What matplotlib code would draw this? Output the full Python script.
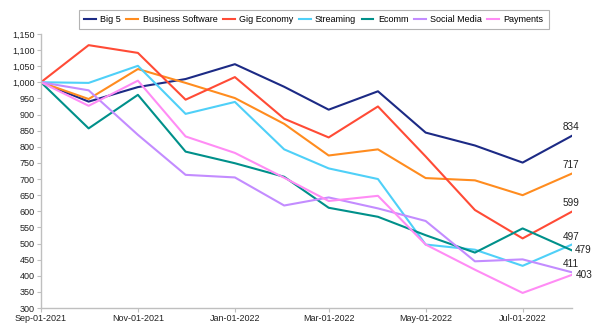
import matplotlib
import matplotlib.pyplot as plt
import matplotlib.dates as mdates
import pandas as pd

matplotlib.use("Agg")
plt.rcParams["font.family"] = ["Liberation Sans", "DejaVu Sans"]

dates = pd.date_range("2021-09-01", "2022-08-01", freq="MS")

series_names = ["Big 5", "Business Software", "Gig Economy", "Streaming",
                "Ecomm", "Social Media", "Payments"]
big5 = [1000, 940, 985, 1010, 1056, 986, 915, 972, 844, 804, 751, 834]
business_software = [1000, 948, 1041, 998, 951, 871, 773, 792, 703, 696, 650, 717]
gig_economy = [1000, 1115, 1091, 946, 1016, 887, 829, 925, 770, 604, 516, 599]
streaming = [1000, 998, 1051, 902, 939, 792, 733, 700, 497, 481, 431, 497]
ecomm = [1000, 857, 961, 785, 749, 707, 611, 583, 526, 472, 547, 479]
social_media = [1000, 975, 837, 713, 705, 618, 643, 609, 570, 445, 451, 411]
payments = [1000, 927, 1005, 832, 781, 704, 632, 648, 497, 419, 347, 403]

values = [big5, business_software, gig_economy, streaming, ecomm, social_media, payments]
colors = ["#1c2a85", "#ff8c1f", "#ff4b36", "#4fd0f8", "#00908a", "#c38cff", "#ff8cf5"]

# end label offsets in pixels (dx, dy), chosen to mimic the reference
end_offsets = [(-1, 9), (-1, 9), (-1, 9), (-1, 8), (11, 0), (-1, 8), (12, 0)]

fig = plt.figure(figsize=(6.02, 3.32), dpi=100)
ax = fig.add_axes([0.068, 0.072, 0.882, 0.826])

for name, vals, color in zip(series_names, values, colors):
    ax.plot(dates, vals, color=color, linewidth=1.5, label=name)

for vals, color, (dx, dy) in zip(values, colors, end_offsets):
    ax.annotate(f"{vals[-1]}", (dates[-1], vals[-1]), xytext=(dx * 0.72, dy * 0.72),
                textcoords="offset points", ha="center", va="center",
                fontsize=7.2, color="#222222")

ax.set_xlim(dates[0], dates[-1])
ax.set_ylim(300, 1150)
ax.set_yticks(range(300, 1151, 50))
ax.yaxis.set_major_formatter(matplotlib.ticker.FuncFormatter(lambda v, p: f"{int(v):,}"))
ax.xaxis.set_major_locator(mdates.MonthLocator(bymonth=[1, 3, 5, 7, 9, 11]))
ax.xaxis.set_major_formatter(mdates.DateFormatter("%b-%d-%Y"))

for side in ["top", "right"]:
    ax.spines[side].set_visible(False)
for side in ["left", "bottom"]:
    ax.spines[side].set_color("#bfbfbf")
    ax.spines[side].set_linewidth(1.0)
ax.tick_params(axis="both", labelsize=6.5, colors="#bfbfbf", labelcolor="#222222",
               length=3, width=0.8, pad=1.5)

leg = ax.legend(ncol=7, loc="upper center", bbox_to_anchor=(0.514, 1.087),
                fontsize=6.5, frameon=True, fancybox=False, shadow=False,
                handlelength=1.3, handletextpad=0.5, columnspacing=0.6,
                borderpad=0.55, borderaxespad=0)
leg.get_frame().set_edgecolor("#a0a0a0")
leg.get_frame().set_linewidth(0.8)

fig.savefig("out.png", dpi=100)
